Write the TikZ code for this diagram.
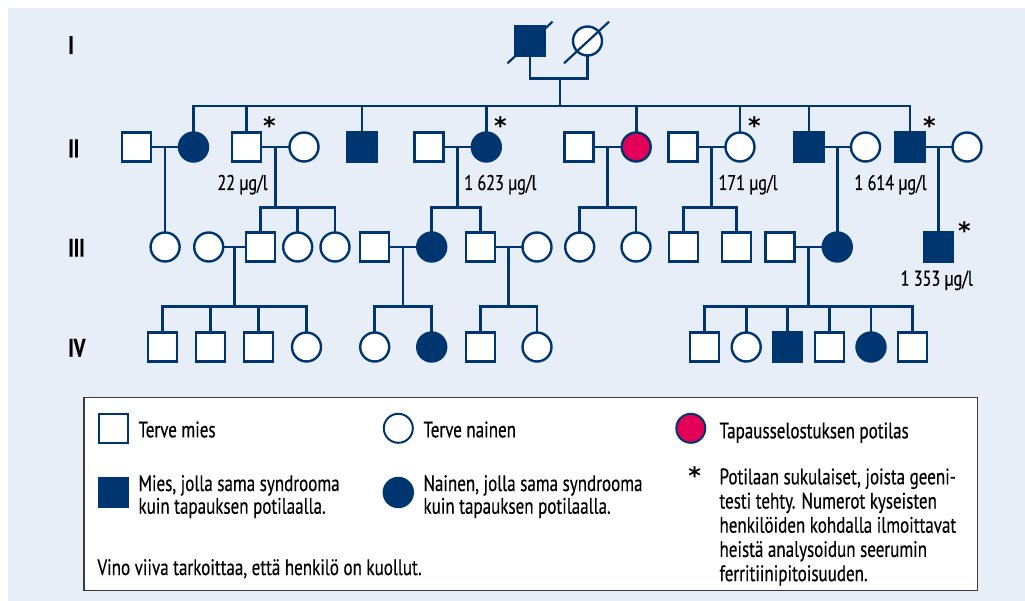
\documentclass[tikz,border=0pt]{standalone}
\usepackage{fontspec}
\setmainfont{PT Sans}[FakeStretch=0.76, FakeBold=0.4]
\newfontfamily\symfont{DejaVu Sans}
\usetikzlibrary{calc}
\definecolor{navy}{RGB}{0,54,112}
\definecolor{pinkred}{RGB}{228,0,88}
\definecolor{bgblue}{RGB}{231,238,248}
\definecolor{boxgray}{RGB}{60,60,60}
\begin{document}
\begin{tikzpicture}[x=1pt,y=-1pt,
  person/.style={draw=navy, line width=2.4pt, fill=white, minimum size=29pt, inner sep=0pt, outer sep=0pt},
  male/.style={person, rectangle},
  female/.style={person, circle},
  aff/.style={fill=navy},
  case/.style={fill=pinkred},
  link/.style={draw=navy, line width=2.6pt},
  slash/.style={draw=navy, line width=2.2pt},
  gen/.style={anchor=base west, inner sep=0pt, font=\bfseries\fontsize{25.5}{28}\selectfont},
  val/.style={anchor=base, inner sep=0pt, font=\fontsize{21.3}{24}\selectfont},
  starmark/.style={anchor=north, inner sep=0pt, font=\symfont\bfseries\fontsize{24}{28}\selectfont},
  legtext/.style={anchor=base west, inner sep=0pt, font=\fontsize{22.4}{22.7}\selectfont},
]
\useasboundingbox (0,0) rectangle (1025,601);
\fill[bgblue] (8,8) rectangle (1025,601);

% generation labels
\node[gen] (gI) at (68,54) {I};
\node[gen] (gII) at (68,157.3) {II};
\node[gen] (gIII) at (68,256.7) {III};
\node[gen] (gIV) at (68,356.7) {IV};

% rows
\coordinate (r3) at (0,247);
\coordinate (s2) at (0,106);
\coordinate (s3) at (0,207.7);
\coordinate (s4) at (0,306.7);

% generation I
\node[male,aff] (a1) at (530,41) {};
\node[female] (a2) at (587.5,41) {};
\draw[slash] ($(a1.center)+(-22.5,22.3)$) -- ($(a1.center)+(22.5,-19.3)$);
\draw[slash] ($(a2.center)+(-23.5,22.3)$) -- ($(a2.center)+(21.5,-19.3)$);
\coordinate (ma) at (560,78.3);
\draw[link] (a1.south) |- (ma) -| (a2.south);

% generation II
\node[male] (b1) at (136.7,147) {};
\node[female,aff] (b2) at (193.5,147) {};
\node[male] (b3) at (246.5,147) {};
\node[female] (b4) at (304,147) {};
\node[male,aff] (b5) at (362,147) {};
\node[male] (b6) at (429,147) {};
\node[female,aff] (b7) at (486.3,147) {};
\node[male] (b8) at (579,147) {};
\node[female,case] (b9) at (636.2,147) {};
\node[male] (b10) at (683,147) {};
\node[female] (b11) at (740,147) {};
\node[male,aff] (b12) at (809,147) {};
\node[female] (b13) at (865.5,147) {};
\node[male,aff] (b14) at (910,147) {};
\node[female] (b15) at (967,147) {};

\foreach \c in {b2,b3,b5,b7,b9,b11,b12,b14}
  \draw[link] (ma) -- (ma |- s2) -| (\c.north);

\foreach \p/\q/\m in {b1/b2/m12, b3/b4/m34, b6/b7/m67, b8/b9/m89, b10/b11/m1011, b12/b13/m1213, b14/b15/m1415}{
  \draw[link] (\p.east) -- (\q.west);
  \coordinate (\m) at ($(\p.east)!0.5!(\q.west)$);
}

% generation III
\node[female] (c1) at (m12 |- r3) {};
\node[female] (c2) at (208.7,247) {};
\node[male] (c3) at (260.2,247) {};
\node[female] (c4) at (297.7,247) {};
\node[female] (c5) at (335,247) {};
\node[male] (c6) at (374.5,247) {};
\node[female,aff] (c7) at (431.7,247) {};
\node[male] (c8) at (480.3,247) {};
\node[female] (c9) at (537,247) {};
\node[female] (c10) at (579.7,247) {};
\node[female] (c11) at (636,247) {};
\node[male] (c12) at (683.2,247) {};
\node[male] (c13) at (736.7,247) {};
\node[male] (c14) at (780,247) {};
\node[female,aff] (c15) at (m1213 |- r3) {};
\node[male,aff] (c16) at (m1415 |- r3) {};

\draw[link] (m12) -- (c1.north);
\draw[link] (m1213) -- (c15.north);
\draw[link] (m1415) -- (c16.north);
\foreach \m/\c in {m34/c3, m34/c4, m34/c5, m67/c7, m67/c8, m89/c10, m89/c11, m1011/c12, m1011/c13}
  \draw[link] (\m) -- (\m |- s3) -| (\c.north);

\foreach \p/\q/\m in {c2/c3/n23, c6/c7/n67, c8/c9/n89, c14/c15/n1415}{
  \draw[link] (\p.east) -- (\q.west);
  \coordinate (\m) at ($(\p.east)!0.5!(\q.west)$);
}

% generation IV
\node[male] (d1) at (162.3,347) {};
\node[male] (d2) at (210.5,347) {};
\node[male] (d3) at (258.3,347) {};
\node[female] (d4) at (306.5,347) {};
\node[female] (d5) at (374.7,347) {};
\node[female,aff] (d6) at (431.7,347) {};
\node[male] (d7) at (480.3,347) {};
\node[female] (d8) at (537,347) {};
\node[male] (d9) at (704.5,347) {};
\node[female] (d10) at (746.2,347) {};
\node[male,aff] (d11) at (787.5,347) {};
\node[male] (d12) at (829.5,347) {};
\node[female,aff] (d13) at (871,347) {};
\node[male] (d14) at (912.5,347) {};

\foreach \m/\c in {n23/d1, n23/d2, n23/d3, n23/d4, n67/d5, n67/d6, n89/d7, n89/d8,
                   n1415/d9, n1415/d10, n1415/d11, n1415/d12, n1415/d13, n1415/d14}
  \draw[link] (\m) -- (\m |- s4) -| (\c.north);

% tested relatives
\node[starmark] (t1) at (269.3,116.7) {*};
\node[starmark] (t2) at (500.5,116.7) {*};
\node[starmark] (t3) at (754.5,116.7) {*};
\node[starmark] (t4) at (929.5,116.7) {*};
\node[starmark] (t5) at (964.5,221.7) {*};

% ferritin values
\node[val] (v1) at (242.5,190) {22 µg/l};
\node[val] (v2) at (500.3,190) {1 623 µg/l};
\node[val] (v3) at (748,190) {171 µg/l};
\node[val] (v4) at (890.5,190) {1 614 µg/l};
\node[val] (v5) at (936.7,285.7) {1 353 µg/l};

% legend
\draw[boxgray, line width=1.5pt, fill=white] (84,397.7) rectangle (977.7,590.7);
\node[male, line width=2pt] (lm) at (113.3,428.3) {};
\node[female, line width=2pt] (lf) at (398.3,428.3) {};
\node[female, case, line width=2pt] (lc) at (690.8,428.3) {};
\node[male, aff] (lma) at (113.3,492.5) {};
\node[female, aff] (lfa) at (398.3,492.5) {};
\node[starmark] (lt) at (694.7,466.7) {*};

\node[legtext] (tm) at (138.3,437.3) {Terve mies};
\node[legtext] (tf) at (423.3,437.3) {Terve nainen};
\node[legtext] (tc) at (719.3,438.3) {Tapausselostuksen potilas};
\node[legtext] (tma) at (138.3,491) {\begin{tabular}[t]{@{}l@{}}Mies, jolla sama syndrooma\\kuin tapauksen potilaalla.\end{tabular}};
\node[legtext] (tfa) at (423.3,491) {\begin{tabular}[t]{@{}l@{}}Nainen, jolla sama syndrooma\\kuin tapauksen potilaalla.\end{tabular}};
\node[legtext] (tv) at (97.3,575) {Vino viiva tarkoittaa, että henkilö on kuollut.};
\node[legtext, font=\fontsize{22.4}{24.2}\selectfont] (tt) at (719.3,484.3) {\begin{tabular}[t]{@{}l@{}}Potilaan sukulaiset, joista geeni-\\testi tehty. Numerot kyseisten\\henkilöiden kohdalla ilmoittavat\\heistä analysoidun seerumin\\ferritiinipitoisuuden.\end{tabular}};
\end{tikzpicture}
\end{document}
